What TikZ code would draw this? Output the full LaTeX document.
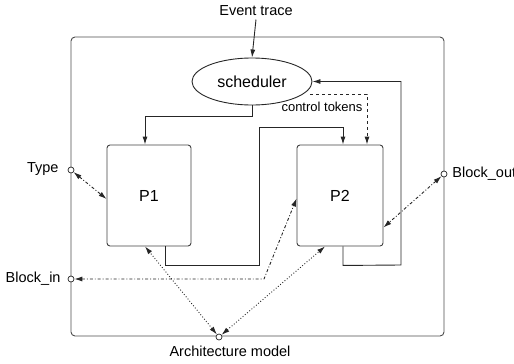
\documentclass[tikz,border=0pt]{standalone}
\usepackage{fontspec}
\setmainfont{Liberation Sans}
\usetikzlibrary{arrows.meta,shapes.geometric}
\begin{document}
\begin{tikzpicture}[x=1pt,y=-1pt,
  line width=0.9pt, draw=black!85,
  tip/.style={-{Latex[length=8pt,width=5pt]}},
  both/.style={{Latex[length=8pt,width=5pt]}-{Latex[length=8pt,width=5pt]}},
  proc/.style={draw=black!75, rounded corners=3pt, minimum width=84pt, minimum height=101pt, font=\fontsize{16}{18}\selectfont, inner sep=0pt},
  port/.style={draw, circle, minimum size=6pt, inner sep=0pt, fill=white, line width=0.7pt},
  lbl/.style={font=\fontsize{14.5}{16}\selectfont, inner sep=0pt}]
\useasboundingbox (0,0) rectangle (514,364);
\node[draw=black!70, rounded corners=4pt, minimum width=373pt, minimum height=299pt, inner sep=0pt] (outer) at (257.5,186.5) {};
\node[draw, ellipse, minimum width=120pt, minimum height=47pt, inner sep=0pt, font=\fontsize{16}{18}\selectfont] (sched) at (252,81.5) {scheduler};
\node[proc] (P1) at (149,195.5) {P1};
\node[proc, minimum width=86pt] (P2) at (340,195.5) {P2};
\node[lbl, inner sep=3pt] (ev) at (256,11) {Event trace};
\draw[tip] (ev.south) -- (sched.north);
% scheduler -> P1
\draw[tip] (sched.south) -- ++(0,11) -| ([xshift=-4pt]P1.north);
% P1 -> P2
\draw[tip] ([xshift=16pt]P1.south) -- ++(0,19) -| (259,127) -| ([xshift=3pt]P2.north);
% P2 -> scheduler
\draw[tip] ([xshift=3pt]P2.south) -- ++(0,19) -- (401,265) |- (sched.east);
% control tokens
\coordinate (ct) at (310,94);
\draw[dashed, tip] (ct) -| ([xshift=27pt]P2.north);
\node[font=\fontsize{13}{15}\selectfont, inner sep=0pt] (ctl) at (322,107) {control tokens};
% ports
\node[port] (type) at (71,170) {};
\node[lbl, anchor=east] (typel) at (59,169) {Type};
\node[port] (bout) at (444,174) {};
\node[lbl, anchor=west] (boutl) at (452,174) {Block\_out};
\node[port] (bin) at (71,279) {};
\node[lbl, anchor=east] (binl) at (61,279) {Block\_in};
\node[port] (arch) at (219,337) {};
\node[lbl] (archl) at (230,351) {Architecture model};
% dash dot connections
\draw[both, dash dot] (type) -- ([yshift=-3.5pt]P1.west);
\draw[both, dash dot] (bout) -- ([yshift=-32pt]P2.east);
\draw[both, dash dot] (bin) -- (264,279) -- ([yshift=-3pt]P2.west);
% dotted architecture
\draw[both, dotted] (arch) -- ([xshift=-4pt]P1.south);
\draw[both, dotted] (arch) -- ([xshift=-15pt]P2.south);
\end{tikzpicture}
\end{document}
